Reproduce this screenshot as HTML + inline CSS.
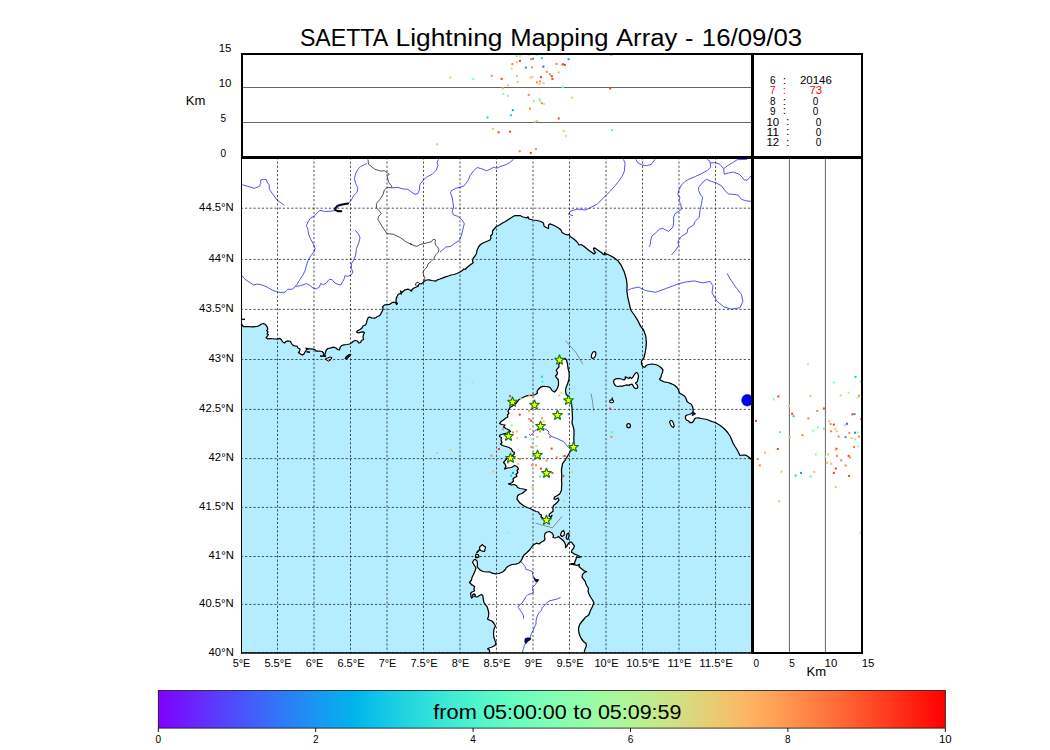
<!DOCTYPE html>
<html><head><meta charset="utf-8"><title>SAETTA Lightning Mapping Array</title>
<style>html,body{margin:0;padding:0;background:#fff}body{width:1050px;height:750px;overflow:hidden}</style></head>
<body>
<svg width="1050" height="750" viewBox="0 0 1050 750" style="display:block;font-family:'Liberation Sans',sans-serif">
<rect width="1050" height="750" fill="#fff"/>
<defs><clipPath id="mc"><rect x="241" y="157" width="512" height="496.5"/></clipPath><clipPath id="tc"><rect x="242" y="54" width="510" height="103"/></clipPath><clipPath id="rc"><rect x="753" y="157" width="109" height="496"/></clipPath></defs>
<g clip-path="url(#mc)">
<rect x="241" y="157" width="512" height="497" fill="#b4edff"/>
<path d="M241.0 157.0 L241.5 323.2 L242.2 325.2 L243.5 326.5 L247.0 326.5 L252.0 326.8 L257.0 326.5 L259.5 325.5 L261.5 324.0 L263.5 323.5 L265.5 324.5 L267.0 326.5 L267.8 329.0 L266.8 330.5 L268.0 332.0 L267.0 334.0 L268.5 334.5 L267.5 336.0 L266.0 337.8 L267.5 338.8 L271.0 338.5 L274.5 339.0 L277.5 339.2 L280.0 338.3 L281.5 340.0 L282.5 341.8 L284.5 343.0 L286.0 341.5 L288.0 340.8 L290.5 341.5 L291.5 343.5 L292.5 345.0 L294.5 345.8 L297.0 346.2 L298.0 348.0 L300.0 349.0 L299.5 351.5 L298.5 352.5 L300.5 354.0 L302.5 355.0 L304.0 354.0 L305.0 352.0 L306.0 350.5 L307.0 349.0 L310.0 348.8 L313.5 349.2 L315.5 350.0 L316.0 351.2 L319.0 351.0 L322.0 351.5 L323.5 353.0 L323.5 355.0 L324.5 356.0 L325.5 352.5 L326.2 350.0 L328.0 348.5 L331.0 347.8 L333.5 347.2 L336.0 348.0 L337.5 349.5 L339.5 350.0 L340.0 347.5 L341.5 345.5 L344.0 344.8 L347.0 344.5 L349.5 344.0 L351.5 343.0 L353.0 341.5 L355.0 340.5 L357.5 341.0 L359.0 343.0 L360.5 342.5 L361.5 340.5 L363.5 339.5 L363.0 337.0 L363.5 334.5 L364.5 333.0 L363.5 331.8 L361.0 332.2 L358.5 332.8 L356.5 332.2 L357.5 330.8 L360.0 329.5 L362.0 328.0 L363.0 326.0 L365.5 325.0 L366.5 323.0 L367.0 320.5 L368.0 318.0 L369.5 317.0 L371.5 318.0 L374.5 318.2 L376.5 317.5 L377.0 316.5 L379.0 316.0 L380.5 314.5 L381.5 312.5 L382.5 310.5 L383.0 308.5 L382.8 306.5 L384.5 305.0 L387.0 304.3 L389.5 304.5 L391.5 303.0 L393.5 302.2 L395.5 302.5 L396.5 304.5 L397.5 303.5 L396.0 301.5 L396.2 299.0 L397.0 296.5 L398.2 294.5 L400.0 293.5 L401.5 294.0 L400.5 291.0 L402.0 292.5 L403.5 291.0 L405.0 289.8 L408.0 289.2 L410.0 290.0 L411.5 291.2 L412.0 289.5 L414.0 288.0 L416.5 287.0 L418.5 286.0 L418.0 285.0 L419.5 283.5 L421.0 284.0 L422.5 283.0 L424.5 281.0 L426.5 280.0 L429.0 279.8 L432.0 280.5 L435.5 281.2 L437.5 279.8 L440.0 279.0 L443.0 277.8 L445.5 276.8 L448.5 276.0 L451.0 275.0 L454.0 274.5 L457.0 273.5 L460.0 272.0 L462.5 270.5 L463.5 269.0 L465.0 269.5 L467.0 267.5 L469.5 265.5 L471.5 264.0 L473.2 262.8 L472.5 261.0 L473.0 258.5 L475.0 256.0 L476.5 253.5 L477.0 250.5 L478.5 247.0 L480.5 244.5 L483.0 243.0 L486.5 241.5 L490.0 240.0 L491.0 238.0 L490.5 236.0 L492.5 234.0 L492.5 231.0 L494.5 228.5 L496.5 226.5 L499.5 225.0 L502.5 223.0 L505.5 221.5 L508.5 219.5 L511.5 217.5 L515.0 215.5 L520.0 215.5 L523.0 217.0 L527.0 217.8 L528.0 216.8 L529.0 219.0 L533.0 220.0 L537.0 220.5 L541.0 221.5 L543.5 223.0 L544.0 226.0 L546.0 227.5 L548.5 228.5 L548.5 225.0 L550.0 223.8 L553.0 225.0 L556.0 226.5 L559.0 228.2 L561.0 230.0 L562.0 232.5 L564.5 234.0 L567.0 234.8 L569.0 234.5 L570.0 236.5 L572.5 238.0 L575.0 240.0 L577.5 242.5 L579.0 245.0 L581.0 244.5 L583.5 246.0 L586.0 248.0 L589.0 250.5 L592.0 252.5 L594.0 254.0 L595.5 252.5 L594.0 250.5 L593.5 248.5 L594.5 247.8 L597.0 249.5 L599.5 251.2 L602.0 253.0 L603.5 254.5 L605.0 254.5 L604.5 252.5 L606.0 253.8 L608.0 254.5 L610.0 255.5 L614.3 257.9 L617.9 260.7 L621.4 265.7 L624.3 272.1 L626.4 279.3 L627.1 285.0 L626.9 291.4 L627.9 297.9 L629.3 303.6 L630.7 310.0 L634.3 315.0 L637.9 320.7 L640.7 326.4 L643.6 330.0 L645.7 335.7 L646.4 342.9 L645.8 349.0 L645.0 353.5 L644.0 357.5 L642.5 359.5 L641.5 361.0 L641.5 364.0 L642.5 366.0 L644.0 367.2 L645.5 366.8 L646.0 365.5 L648.5 364.5 L652.0 364.0 L655.5 364.5 L658.5 365.8 L661.0 367.5 L663.0 370.0 L662.5 372.5 L661.5 374.5 L661.0 377.0 L659.5 379.0 L661.0 380.5 L664.0 381.8 L668.0 382.5 L671.5 383.8 L674.5 385.2 L677.0 387.5 L678.5 390.0 L679.5 393.0 L682.0 394.5 L684.5 396.0 L686.0 398.5 L687.0 401.5 L689.0 403.0 L691.0 404.0 L692.5 406.5 L693.2 409.5 L693.0 412.0 L691.5 413.5 L689.5 414.5 L687.0 415.0 L685.5 416.0 L685.5 418.5 L686.5 420.0 L688.5 421.0 L690.0 422.5 L692.0 422.5 L693.5 421.2 L694.5 419.0 L696.0 418.0 L698.5 417.8 L701.0 418.5 L704.0 419.0 L707.0 419.5 L710.0 420.8 L713.5 422.0 L716.5 423.2 L719.5 425.0 L722.5 427.2 L725.5 430.0 L728.0 433.0 L730.0 436.0 L731.5 439.5 L733.0 443.0 L735.0 446.5 L737.0 449.5 L738.5 452.5 L740.0 455.5 L743.0 455.0 L745.5 455.0 L748.0 456.5 L750.5 458.5 L751.5 460.0 L756.0 464.0 L753.0 157.0 Z" fill="#fff" stroke="none"/>
<path d="M241.5 323.2 L242.2 325.2 L243.5 326.5 L247.0 326.5 L252.0 326.8 L257.0 326.5 L259.5 325.5 L261.5 324.0 L263.5 323.5 L265.5 324.5 L267.0 326.5 L267.8 329.0 L266.8 330.5 L268.0 332.0 L267.0 334.0 L268.5 334.5 L267.5 336.0 L266.0 337.8 L267.5 338.8 L271.0 338.5 L274.5 339.0 L277.5 339.2 L280.0 338.3 L281.5 340.0 L282.5 341.8 L284.5 343.0 L286.0 341.5 L288.0 340.8 L290.5 341.5 L291.5 343.5 L292.5 345.0 L294.5 345.8 L297.0 346.2 L298.0 348.0 L300.0 349.0 L299.5 351.5 L298.5 352.5 L300.5 354.0 L302.5 355.0 L304.0 354.0 L305.0 352.0 L306.0 350.5 L307.0 349.0 L310.0 348.8 L313.5 349.2 L315.5 350.0 L316.0 351.2 L319.0 351.0 L322.0 351.5 L323.5 353.0 L323.5 355.0 L324.5 356.0 L325.5 352.5 L326.2 350.0 L328.0 348.5 L331.0 347.8 L333.5 347.2 L336.0 348.0 L337.5 349.5 L339.5 350.0 L340.0 347.5 L341.5 345.5 L344.0 344.8 L347.0 344.5 L349.5 344.0 L351.5 343.0 L353.0 341.5 L355.0 340.5 L357.5 341.0 L359.0 343.0 L360.5 342.5 L361.5 340.5 L363.5 339.5 L363.0 337.0 L363.5 334.5 L364.5 333.0 L363.5 331.8 L361.0 332.2 L358.5 332.8 L356.5 332.2 L357.5 330.8 L360.0 329.5 L362.0 328.0 L363.0 326.0 L365.5 325.0 L366.5 323.0 L367.0 320.5 L368.0 318.0 L369.5 317.0 L371.5 318.0 L374.5 318.2 L376.5 317.5 L377.0 316.5 L379.0 316.0 L380.5 314.5 L381.5 312.5 L382.5 310.5 L383.0 308.5 L382.8 306.5 L384.5 305.0 L387.0 304.3 L389.5 304.5 L391.5 303.0 L393.5 302.2 L395.5 302.5 L396.5 304.5 L397.5 303.5 L396.0 301.5 L396.2 299.0 L397.0 296.5 L398.2 294.5 L400.0 293.5 L401.5 294.0 L400.5 291.0 L402.0 292.5 L403.5 291.0 L405.0 289.8 L408.0 289.2 L410.0 290.0 L411.5 291.2 L412.0 289.5 L414.0 288.0 L416.5 287.0 L418.5 286.0 L418.0 285.0 L419.5 283.5 L421.0 284.0 L422.5 283.0 L424.5 281.0 L426.5 280.0 L429.0 279.8 L432.0 280.5 L435.5 281.2 L437.5 279.8 L440.0 279.0 L443.0 277.8 L445.5 276.8 L448.5 276.0 L451.0 275.0 L454.0 274.5 L457.0 273.5 L460.0 272.0 L462.5 270.5 L463.5 269.0 L465.0 269.5 L467.0 267.5 L469.5 265.5 L471.5 264.0 L473.2 262.8 L472.5 261.0 L473.0 258.5 L475.0 256.0 L476.5 253.5 L477.0 250.5 L478.5 247.0 L480.5 244.5 L483.0 243.0 L486.5 241.5 L490.0 240.0 L491.0 238.0 L490.5 236.0 L492.5 234.0 L492.5 231.0 L494.5 228.5 L496.5 226.5 L499.5 225.0 L502.5 223.0 L505.5 221.5 L508.5 219.5 L511.5 217.5 L515.0 215.5 L520.0 215.5 L523.0 217.0 L527.0 217.8 L528.0 216.8 L529.0 219.0 L533.0 220.0 L537.0 220.5 L541.0 221.5 L543.5 223.0 L544.0 226.0 L546.0 227.5 L548.5 228.5 L548.5 225.0 L550.0 223.8 L553.0 225.0 L556.0 226.5 L559.0 228.2 L561.0 230.0 L562.0 232.5 L564.5 234.0 L567.0 234.8 L569.0 234.5 L570.0 236.5 L572.5 238.0 L575.0 240.0 L577.5 242.5 L579.0 245.0 L581.0 244.5 L583.5 246.0 L586.0 248.0 L589.0 250.5 L592.0 252.5 L594.0 254.0 L595.5 252.5 L594.0 250.5 L593.5 248.5 L594.5 247.8 L597.0 249.5 L599.5 251.2 L602.0 253.0 L603.5 254.5 L605.0 254.5 L604.5 252.5 L606.0 253.8 L608.0 254.5 L610.0 255.5 L614.3 257.9 L617.9 260.7 L621.4 265.7 L624.3 272.1 L626.4 279.3 L627.1 285.0 L626.9 291.4 L627.9 297.9 L629.3 303.6 L630.7 310.0 L634.3 315.0 L637.9 320.7 L640.7 326.4 L643.6 330.0 L645.7 335.7 L646.4 342.9 L645.8 349.0 L645.0 353.5 L644.0 357.5 L642.5 359.5 L641.5 361.0 L641.5 364.0 L642.5 366.0 L644.0 367.2 L645.5 366.8 L646.0 365.5 L648.5 364.5 L652.0 364.0 L655.5 364.5 L658.5 365.8 L661.0 367.5 L663.0 370.0 L662.5 372.5 L661.5 374.5 L661.0 377.0 L659.5 379.0 L661.0 380.5 L664.0 381.8 L668.0 382.5 L671.5 383.8 L674.5 385.2 L677.0 387.5 L678.5 390.0 L679.5 393.0 L682.0 394.5 L684.5 396.0 L686.0 398.5 L687.0 401.5 L689.0 403.0 L691.0 404.0 L692.5 406.5 L693.2 409.5 L693.0 412.0 L691.5 413.5 L689.5 414.5 L687.0 415.0 L685.5 416.0 L685.5 418.5 L686.5 420.0 L688.5 421.0 L690.0 422.5 L692.0 422.5 L693.5 421.2 L694.5 419.0 L696.0 418.0 L698.5 417.8 L701.0 418.5 L704.0 419.0 L707.0 419.5 L710.0 420.8 L713.5 422.0 L716.5 423.2 L719.5 425.0 L722.5 427.2 L725.5 430.0 L728.0 433.0 L730.0 436.0 L731.5 439.5 L733.0 443.0 L735.0 446.5 L737.0 449.5 L738.5 452.5 L740.0 455.5 L743.0 455.0 L745.5 455.0 L748.0 456.5 L750.5 458.5 L751.5 460.0 L756.0 464.0" fill="none" stroke="#000" stroke-width="1.25" stroke-linejoin="round"/>
<path d="M565.0 358.5 L566.5 360.0 L567.5 364.0 L568.0 368.0 L569.0 372.0 L569.2 376.0 L568.8 380.0 L567.5 384.0 L566.2 387.0 L565.5 390.5 L566.0 394.0 L568.0 396.5 L570.0 399.0 L571.5 403.0 L572.0 408.0 L572.2 413.0 L572.5 418.0 L572.0 423.0 L573.0 426.0 L574.0 430.0 L574.0 434.0 L573.8 438.0 L574.0 443.0 L573.0 446.5 L571.0 450.0 L570.0 452.0 L568.5 454.5 L567.0 457.0 L565.5 459.5 L564.0 461.5 L562.5 463.5 L562.2 466.0 L561.5 469.0 L561.5 472.0 L561.8 476.0 L561.5 480.0 L561.8 484.0 L561.5 488.0 L561.5 490.0 L560.5 492.5 L559.0 494.5 L556.5 496.0 L554.5 497.0 L554.0 499.0 L555.5 499.5 L558.0 498.0 L559.0 500.0 L557.5 502.0 L555.5 504.0 L553.5 505.5 L552.8 508.0 L553.2 511.0 L551.5 512.5 L549.5 514.0 L549.0 516.0 L550.5 517.0 L552.0 515.5 L551.0 517.5 L550.0 519.0 L548.5 521.0 L546.5 522.0 L544.5 520.5 L543.0 518.0 L541.0 517.0 L541.5 515.0 L539.5 514.0 L538.5 512.0 L536.0 511.5 L533.0 510.0 L530.0 508.5 L527.0 507.5 L524.0 506.0 L522.0 504.5 L520.0 503.0 L518.5 501.0 L517.0 499.0 L517.5 496.0 L519.0 494.5 L522.0 493.5 L524.5 491.5 L526.5 489.8 L523.5 489.0 L520.0 488.5 L517.5 487.5 L516.5 485.5 L514.0 484.5 L511.5 485.0 L508.5 483.8 L511.5 483.0 L513.5 481.0 L513.0 479.0 L514.5 477.5 L517.0 476.5 L516.0 474.5 L518.0 472.5 L517.0 470.5 L518.5 469.0 L517.0 466.5 L514.5 465.5 L511.5 467.5 L507.5 468.0 L504.5 469.0 L506.0 466.5 L505.0 464.0 L503.5 462.5 L506.0 459.5 L508.5 457.5 L511.5 456.0 L514.0 454.5 L514.5 452.5 L512.5 451.5 L511.5 449.0 L509.0 447.5 L506.0 446.5 L502.5 445.5 L500.5 444.0 L502.0 442.5 L501.0 440.0 L501.5 437.5 L499.5 436.5 L500.0 435.0 L504.5 433.5 L507.5 433.0 L510.5 431.5 L509.0 430.0 L506.0 428.5 L503.5 427.0 L505.0 425.0 L501.5 424.5 L499.5 423.5 L501.0 421.5 L503.5 420.0 L505.5 418.2 L507.8 417.0 L507.5 415.0 L509.0 413.2 L508.0 411.5 L508.8 409.5 L510.0 407.5 L512.5 406.0 L514.5 404.5 L516.5 403.0 L517.8 401.2 L519.0 399.5 L521.0 398.2 L523.0 397.5 L525.0 396.5 L527.5 395.7 L530.0 395.5 L533.0 395.2 L535.5 394.5 L537.5 393.0 L537.0 391.5 L538.5 389.2 L540.5 387.2 L543.0 386.3 L546.0 386.5 L548.5 386.8 L550.5 388.0 L552.0 390.5 L554.5 392.0 L556.0 390.5 L557.5 388.0 L558.5 385.0 L558.5 382.0 L558.2 379.5 L556.5 377.8 L555.5 376.0 L557.0 374.5 L557.5 372.5 L556.2 370.5 L557.5 368.5 L559.0 367.0 L558.8 364.5 L560.0 362.5 L559.0 360.5 L561.0 358.8 Z" fill="#fff" stroke="#000" stroke-width="1.25" stroke-linejoin="round"/>
<path d="M489.5 655.0 L489.5 650.0 L487.5 649.0 L489.0 648.0 L492.0 647.0 L495.0 645.5 L496.0 643.0 L495.0 640.5 L493.8 637.0 L493.5 633.0 L494.0 629.0 L495.5 626.0 L494.0 623.5 L492.0 621.0 L489.5 620.2 L487.5 619.0 L488.5 616.5 L488.8 613.0 L488.0 609.5 L487.0 606.5 L485.5 604.5 L484.0 602.5 L483.2 599.0 L482.8 595.5 L481.5 594.5 L479.5 595.5 L477.0 597.0 L474.5 596.5 L475.5 595.0 L474.0 593.8 L472.5 595.0 L473.0 597.0 L471.5 598.0 L471.0 596.0 L470.5 593.5 L472.0 592.0 L474.5 591.0 L474.0 589.0 L474.5 586.5 L472.5 585.0 L472.0 585.0 L469.5 582.5 L471.5 580.0 L472.0 577.5 L473.5 574.5 L475.0 571.0 L476.0 568.0 L474.5 565.5 L472.5 562.5 L473.8 560.0 L475.2 559.2 L477.0 561.0 L477.5 564.0 L477.2 566.5 L478.5 568.5 L480.5 570.2 L483.0 571.5 L486.5 572.0 L489.5 571.8 L492.0 573.2 L495.5 573.8 L499.0 573.5 L502.5 572.0 L505.0 570.0 L506.5 567.5 L509.0 565.8 L512.0 564.5 L516.0 564.2 L519.0 563.0 L521.0 561.0 L522.5 558.0 L524.0 555.0 L527.0 552.5 L530.0 549.5 L532.0 546.5 L534.0 544.5 L536.5 543.2 L539.0 544.0 L541.5 542.0 L543.5 541.0 L545.0 539.5 L544.5 536.5 L545.0 533.5 L547.0 532.0 L549.5 531.5 L552.0 533.0 L553.5 535.5 L553.0 537.5 L555.0 538.0 L557.0 537.5 L558.5 536.5 L560.0 538.0 L562.0 539.5 L564.0 541.5 L565.5 544.5 L565.5 547.5 L567.0 546.0 L568.0 544.0 L569.5 542.0 L571.5 542.0 L573.0 544.0 L574.5 546.0 L573.5 548.5 L572.0 550.0 L571.5 552.5 L573.0 553.0 L574.5 554.2 L576.5 554.8 L579.0 556.0 L581.0 557.0 L578.5 557.5 L576.5 557.0 L576.0 559.0 L575.0 561.5 L574.5 563.5 L572.0 563.5 L569.5 564.0 L572.0 564.5 L575.0 564.8 L577.0 565.5 L579.5 564.2 L579.0 566.5 L580.5 568.0 L582.5 569.5 L584.5 571.2 L586.5 571.7 L584.0 572.8 L582.5 574.5 L582.0 577.0 L583.5 579.0 L585.0 581.0 L586.0 584.0 L587.0 586.0 L588.5 588.5 L588.0 591.0 L589.0 594.0 L590.5 597.0 L592.5 600.0 L594.0 603.0 L593.5 603.5 L592.5 606.5 L591.2 609.0 L590.0 611.5 L589.0 614.5 L587.5 616.0 L585.5 617.0 L584.0 619.0 L582.0 621.5 L580.0 624.0 L578.8 627.0 L578.5 630.0 L579.0 633.0 L580.0 636.0 L581.5 639.0 L583.5 641.5 L586.0 643.5 L586.5 645.5 L585.5 648.0 L584.5 650.5 L584.2 655.0 Z" fill="#fff" stroke="#000" stroke-width="1.25" stroke-linejoin="round"/>
<path d="M613.5 382.0 L614.0 380.0 L616.0 378.8 L619.0 378.5 L621.5 379.0 L624.0 380.0 L625.5 378.5 L625.2 376.8 L627.0 377.5 L629.0 378.5 L630.0 377.2 L631.5 378.5 L633.0 377.0 L634.0 375.0 L635.5 373.0 L637.0 372.5 L638.0 374.0 L638.5 376.5 L637.8 379.5 L637.5 381.5 L635.5 383.0 L637.0 384.5 L637.8 386.5 L637.5 388.2 L635.5 388.5 L634.0 387.5 L633.0 385.5 L632.0 384.2 L630.0 384.5 L629.0 385.5 L627.0 384.8 L624.5 385.5 L622.5 386.2 L620.0 386.0 L618.0 386.5 L616.0 386.0 L614.5 384.5 Z" fill="#fff" stroke="#000" stroke-width="1.25" stroke-linejoin="round"/>
<ellipse cx="593.6" cy="355" rx="2.0" ry="3.5" transform="rotate(18 593.6 355)" fill="#fff" stroke="#000" stroke-width="1.2"/>
<ellipse cx="611.6" cy="401.3" rx="2.0" ry="1.4" fill="#fff" stroke="#000" stroke-width="1.1"/><path d="M612.3 400 L612.3 397.6" stroke="#000" stroke-width="1.3"/>
<ellipse cx="628.6" cy="425.7" rx="1.8" ry="2" fill="#fff" stroke="#000" stroke-width="1.2"/>
<path d="M669.5 421.8 L671.0 420.2 L672.5 421.2 L673.5 423.5 L674.2 426.0 L673.5 427.5 L671.8 426.5 L670.5 424.5 Z" fill="#fff" stroke="#000" stroke-width="1.1" stroke-linejoin="round"/>
<path d="M305.5 348.3 L308.5 349 M306.5 351.7 L310 352.3" stroke="#000" stroke-width="1.6" fill="none"/>
<path d="M320 356 L326 356.3" stroke="#000" stroke-width="1.5" fill="none"/>
<path d="M325.0 359.0 L327.5 358.0 L330.0 357.0 L332.0 357.5 L331.0 359.5 L328.5 361.2 L326.5 360.0 Z" fill="#ccc" stroke="#000" stroke-width="1.0"/>
<path d="M345.0 358.5 L346.5 356.0 L349.0 354.5 L351.0 354.2 L350.0 356.0 L347.5 358.5 L346.0 359.5 Z" fill="#222" stroke="#000" stroke-width="0.9"/>
<path d="M415.5 285.0 L416.0 283.0 L418.0 282.2 L419.2 283.5 L417.8 285.5 L416.5 286.2 Z" fill="#fff" stroke="#000" stroke-width="0.8"/>
<path d="M480.0 546.5 L482.5 544.5 L483.5 545.8 L485.5 547.0 L485.0 549.5 L484.5 551.5 L482.5 551.2 L480.5 550.5 L479.5 548.5 Z" fill="#fff" stroke="#000" stroke-width="1.2" stroke-linejoin="round"/>
<path d="M479.8 549.5 L478.0 551.2 L476.5 553.0" fill="none" stroke="#000" stroke-width="1.6"/>
<path d="M475.5 556.0 L476.0 554.2 L478.5 554.8 L479.0 557.0 L477.0 557.8 L475.5 557.2 Z" fill="#fff" stroke="#000" stroke-width="1.2" stroke-linejoin="round"/>
<path d="M560.5 535.0 L561.5 532.0 L563.5 530.5 L564.5 532.5 L564.0 535.5 L562.0 536.5 Z" fill="#fff" stroke="#000" stroke-width="1.2" stroke-linejoin="round"/>
<path d="M566.2 537.5 L567.0 534.0 L568.8 533.0 L569.0 536.0 L568.0 539.5 L566.8 539.0 Z" fill="#ddd" stroke="#000" stroke-width="1.2" stroke-linejoin="round"/>
<path d="M241.5 319.3 L245 319.3" stroke="#000" stroke-width="1.3"/>
<path d="M424.5 280.0 L425.0 278.0 L423.5 275.0 L423.0 272.0 L424.5 269.5 L427.0 267.0 L428.0 264.0 L431.0 261.5 L434.0 258.5 L435.5 255.0 L438.0 252.5 L439.0 249.5 L437.5 247.0 L435.5 245.0 L435.0 242.5 L435.5 240.0 L434.0 239.2 L432.0 240.5 L431.5 241.8 L428.0 242.5 L424.0 243.5 L420.0 244.5 L417.0 246.5 L414.0 245.5 L411.5 244.5 L410.0 243.5 L412.1 244.7 L406.4 242.1 L400.7 237.9 L393.6 234.3 L387.1 233.6 L382.1 226.4 L377.9 219.3 L378.6 216.4 L381.4 213.6 L379.3 210.7 L376.4 207.9 L376.4 203.6 L380.0 199.3 L382.9 195.0 L384.3 190.0 L387.1 187.4 L392.1 187.9" fill="none" stroke="#1a1a1a" stroke-width="0.75" stroke-linejoin="round"/>
<path d="M392.1 187.9 L391.4 185.7 L388.6 182.1 L387.1 176.4 L389.3 174.3 L384.3 170.7 L380.7 171.1 L375.0 169.3 L372.1 167.1 L368.6 164.3 L367.9 159.3" fill="none" stroke="#1a1a1a" stroke-width="0.75" stroke-linejoin="round"/>
<path d="M565.7 340.7 L569.3 345.0 L575.7 352.1 L580.0 359.3 L582.9 364.3" fill="none" stroke="#555" stroke-width="0.6"/>
<path d="M591.1 393.6 L592.6 402.1 L593.6 410.7" fill="none" stroke="#555" stroke-width="0.6"/>
<path d="M535.5 523.2 L552.5 527.8 L562.0 516.5" fill="none" stroke="#555" stroke-width="0.6"/>
<path d="M242.1 184.7 L247.9 186.4 L254.3 188.3 L259.3 186.4 L260.7 183.6 L260.7 180.0 L263.6 179.3 L266.4 179.7 L267.1 182.1 L269.3 185.0 L269.3 189.3 L272.9 194.3 L277.1 200.0 L282.1 203.6 L284.3 205.4" fill="none" stroke="#4848ff" stroke-width="0.95" stroke-linejoin="round"/>
<path d="M367.1 163.6 L365.0 164.3 L360.7 166.4 L357.9 169.3 L355.7 173.6 L354.3 178.6 L355.7 183.6 L357.9 187.9 L357.1 192.1 L353.6 195.7 L351.4 200.0 L348.6 203.1" fill="none" stroke="#4848ff" stroke-width="0.95" stroke-linejoin="round"/>
<path d="M334.3 210.7 L329.3 211.4 L324.3 211.4 L320.0 210.3 L317.1 212.9 L314.3 216.0 L310.0 218.6 L307.9 222.1 L306.4 225.7 L307.9 229.3 L308.6 234.3 L310.7 239.3 L313.6 244.3 L315.0 248.6 L314.3 251.4 L310.7 255.7 L307.9 260.7 L306.4 265.7 L305.0 270.7 L302.9 275.0 L300.0 279.3 L297.1 284.3 L295.0 286.4" fill="none" stroke="#4848ff" stroke-width="0.95" stroke-linejoin="round"/>
<path d="M355.0 230.0 L355.7 230.7 L358.6 234.3 L360.0 237.9 L358.6 243.6 L356.4 248.6 L355.7 255.0 L353.6 260.0 L351.4 263.6 L351.4 268.6 L352.9 272.1 L351.4 274.6 L347.9 276.4 L345.0 275.7 L344.3 278.6 L342.9 281.4 L340.7 285.0 L337.9 284.3 L335.0 283.1 L332.1 279.7 L329.3 279.3 L326.4 282.9 L323.6 284.6 L320.7 283.6 L319.3 287.1 L316.4 288.9 L312.9 287.9 L309.3 285.0 L306.4 283.6 L300.7 285.7 L295.7 286.4 L292.1 289.3 L287.9 289.3 L285.0 292.1 L280.7 292.6 L276.4 291.7 L272.1 290.0 L267.1 287.1 L262.1 285.0 L257.1 284.0 L253.6 285.0 L249.3 282.1 L245.0 279.3 L242.1 275.7" fill="none" stroke="#4848ff" stroke-width="0.95" stroke-linejoin="round"/>
<path d="M392.1 187.9 L397.9 187.4 L402.9 188.9 L407.9 189.3 L411.4 192.1 L415.0 194.3 L417.9 193.6 L419.3 190.0 L420.0 184.3 L422.9 180.7 L426.4 177.1 L432.1 174.3 L436.4 170.0 L437.9 165.7 L437.1 162.1 L438.6 159.3" fill="none" stroke="#4848ff" stroke-width="0.95" stroke-linejoin="round"/>
<path d="M513.6 159.3 L509.3 162.9 L505.0 165.0 L500.7 166.4 L496.4 168.3 L493.6 167.1 L490.0 169.3 L486.4 170.7 L481.4 168.6 L477.1 167.6 L473.6 170.7 L470.0 175.7 L467.9 180.7 L464.3 185.7 L460.0 187.4 L455.7 188.3 L451.4 190.7 L450.4 192.9 L452.1 197.1 L452.9 202.1 L453.6 207.1 L452.1 212.1 L453.6 215.0 L457.9 216.4 L462.1 220.0 L464.3 223.6 L462.9 229.3 L461.4 235.7 L459.3 240.7 L454.3 243.6 L450.7 246.4 L445.7 247.1 L440.0 252.1" fill="none" stroke="#4848ff" stroke-width="0.95" stroke-linejoin="round"/>
<path d="M623.6 159.3 L625.0 163.6 L624.3 171.4 L622.1 176.4 L618.6 181.4 L615.7 185.0 L610.0 191.4 L607.1 194.3 L597.1 204.3 L585.7 210.0 L577.1 209.1 L570.0 211.4 L568.6 214.3 L572.9 215.7" fill="none" stroke="#4848ff" stroke-width="0.95" stroke-linejoin="round"/>
<path d="M635.7 159.3 L637.9 162.9 L642.1 165.0 L646.4 165.7 L651.4 164.3 L655.0 159.3" fill="none" stroke="#4848ff" stroke-width="0.95" stroke-linejoin="round"/>
<path d="M707.1 159.3 L710.0 161.4 L710.7 167.1 L707.1 170.7 L701.4 173.6 L695.7 176.4 L690.0 178.6 L685.0 181.4 L681.4 185.0 L678.6 190.7 L677.9 194.3 L680.0 197.9 L678.6 200.7 L680.7 203.6 L681.4 209.3 L678.6 211.4 L675.0 213.6 L673.6 217.1 L673.6 222.9 L672.9 227.1 L668.6 231.4 L665.7 230.0 L662.9 228.3 L659.3 229.3 L655.7 232.9 L652.1 235.7 L650.7 240.0 L650.3 244.3 L649.3 246.9" fill="none" stroke="#4848ff" stroke-width="0.95" stroke-linejoin="round"/>
<path d="M710.0 162.9 L715.7 162.6 L720.0 164.3 L723.6 168.6 L724.3 174.3 L728.6 172.9 L733.6 172.1 L739.3 174.3 L742.1 177.1 L744.3 180.0 L747.1 180.3 L751.1 176.0" fill="none" stroke="#4848ff" stroke-width="0.95" stroke-linejoin="round"/>
<path d="M723.6 168.6 L728.6 165.0 L733.6 162.1 L737.1 159.7 L747.1 159.3" fill="none" stroke="#4848ff" stroke-width="0.95" stroke-linejoin="round"/>
<path d="M751.1 201.4 L745.7 200.7 L741.4 199.3 L737.9 195.0 L732.9 194.3 L728.6 194.0 L725.0 190.7 L721.4 185.7 L716.4 183.1 L711.4 181.4 L706.4 179.3 L702.9 182.1 L698.6 187.4 L698.6 190.7 L700.7 195.0 L702.6 197.1 L701.4 204.3 L700.0 210.0 L699.3 217.1 L695.0 221.4 L693.6 225.0 L687.9 228.6 L687.1 232.9 L681.4 236.4 L677.9 241.4 L678.6 245.7 L675.7 250.0 L671.4 255.0" fill="none" stroke="#4848ff" stroke-width="0.95" stroke-linejoin="round"/>
<path d="M627.1 290.6 L631.4 288.6 L638.6 287.1 L645.7 290.6 L655.7 292.3 L665.7 288.6 L677.1 284.3 L685.7 282.0 L694.3 280.9 L702.9 282.9 L710.0 281.4 L712.9 285.7 L712.0 292.9 L717.1 301.4 L724.3 307.1 L731.4 309.1 L740.0 307.7 L742.9 301.4 L741.4 294.3 L735.7 287.1 L730.0 278.6 L727.1 273.4" fill="none" stroke="#4848ff" stroke-width="0.95" stroke-linejoin="round"/>
<path d="M529.0 434.0 L530.5 435.5 L532.5 433.5 L534.5 431.0 L537.0 429.5 L540.5 428.5 L544.0 428.8 L547.0 430.0 L549.0 432.0 L548.5 434.0 L551.0 436.0 L554.0 437.5 L557.0 438.5 L560.0 440.0 L563.5 441.5 L566.0 444.5 L568.5 447.5 L570.5 448.5" fill="none" stroke="#4848ff" stroke-width="0.95" stroke-linejoin="round"/>
<path d="M521.0 562.0 L523.0 563.5 L525.0 566.5 L526.0 569.5 L528.5 570.0 L531.0 571.0 L533.0 572.0 L532.5 574.5 L534.0 577.0 L535.0 579.0 L536.5 582.5 L535.5 584.5 L532.5 587.5 L533.0 590.5 L533.5 593.0 L533.2 592.5 L531.0 593.8 L528.0 594.5 L526.0 596.5 L524.0 600.0 L522.0 603.0 L519.0 605.5 L518.2 607.5 L520.0 610.0 L522.5 613.5 L523.5 616.0 L523.5 618.5" fill="none" stroke="#4848ff" stroke-width="0.95" stroke-linejoin="round"/>
<path d="M560.5 597.5 L557.0 599.0 L553.0 600.0 L549.0 601.0 L546.0 603.5 L543.5 606.5 L542.0 608.5 L541.5 610.5 L539.5 612.0 L538.0 614.5 L536.5 618.0 L536.0 621.5 L536.0 624.0 L534.5 627.0 L533.0 630.5 L531.5 633.5 L530.5 636.0 L530.0 638.5 L526.0 642.5 L524.5 645.0 L523.5 648.5 L522.5 652.2" fill="none" stroke="#4848ff" stroke-width="0.95" stroke-linejoin="round"/>
<path d="M348 203.5 L342.3 204.5 L337.7 205.8 L335.4 208.3 L334.8 209.8 L337.7 211.1 L341.3 211.3" fill="none" stroke="#000" stroke-width="2.1" stroke-linecap="round" stroke-linejoin="round"/>
<path d="M338.5 205.6 L336.2 207.8 L335.2 209.6" fill="none" stroke="#0000e0" stroke-width="0.9" stroke-linecap="round"/>
<ellipse cx="747.3" cy="400.2" rx="5.6" ry="5.8" fill="#00f" stroke="#000090" stroke-width="0.6"/>
<path d="M693.5 411.8 L695.7 414.0 L692.0 415.8 Z" fill="#0000c8" stroke="#000" stroke-width="0.7" stroke-linejoin="round"/>
<path d="M533.8 577.8 L536.0 579.5 L538.8 579.8 L537.2 582.0 L535.0 580.8 Z" fill="#0000a0" stroke="#000" stroke-width="0.8"/>
<path d="M525.2 638.5 L528.0 637.8 L530.8 638.5 L530.0 640.0 L528.0 641.0 L526.0 643.5 L524.8 642.0 Z" fill="#0000a0" stroke="#000" stroke-width="0.8"/>
<line x1="277.5" y1="157.3" x2="277.5" y2="654" stroke="#101518" stroke-width="1" stroke-dasharray="2.2 1.99" opacity="0.72"/>
<line x1="314.0" y1="157.3" x2="314.0" y2="654" stroke="#101518" stroke-width="1" stroke-dasharray="2.2 1.99" opacity="0.72"/>
<line x1="350.5" y1="157.3" x2="350.5" y2="654" stroke="#101518" stroke-width="1" stroke-dasharray="2.2 1.99" opacity="0.72"/>
<line x1="387.0" y1="157.3" x2="387.0" y2="654" stroke="#101518" stroke-width="1" stroke-dasharray="2.2 1.99" opacity="0.72"/>
<line x1="423.5" y1="157.3" x2="423.5" y2="654" stroke="#101518" stroke-width="1" stroke-dasharray="2.2 1.99" opacity="0.72"/>
<line x1="460.0" y1="157.3" x2="460.0" y2="654" stroke="#101518" stroke-width="1" stroke-dasharray="2.2 1.99" opacity="0.72"/>
<line x1="496.5" y1="157.3" x2="496.5" y2="654" stroke="#101518" stroke-width="1" stroke-dasharray="2.2 1.99" opacity="0.72"/>
<line x1="533.0" y1="157.3" x2="533.0" y2="654" stroke="#101518" stroke-width="1" stroke-dasharray="2.2 1.99" opacity="0.72"/>
<line x1="569.5" y1="157.3" x2="569.5" y2="654" stroke="#101518" stroke-width="1" stroke-dasharray="2.2 1.99" opacity="0.72"/>
<line x1="606.0" y1="157.3" x2="606.0" y2="654" stroke="#101518" stroke-width="1" stroke-dasharray="2.2 1.99" opacity="0.72"/>
<line x1="642.5" y1="157.3" x2="642.5" y2="654" stroke="#101518" stroke-width="1" stroke-dasharray="2.2 1.99" opacity="0.72"/>
<line x1="679.0" y1="157.3" x2="679.0" y2="654" stroke="#101518" stroke-width="1" stroke-dasharray="2.2 1.99" opacity="0.72"/>
<line x1="715.5" y1="157.3" x2="715.5" y2="654" stroke="#101518" stroke-width="1" stroke-dasharray="2.2 1.99" opacity="0.72"/>
<line x1="240.9" y1="208.2" x2="753" y2="208.2" stroke="#101518" stroke-width="1" stroke-dasharray="2.2 1.99" opacity="0.72"/>
<line x1="240.9" y1="259.4" x2="753" y2="259.4" stroke="#101518" stroke-width="1" stroke-dasharray="2.2 1.99" opacity="0.72"/>
<line x1="240.9" y1="309.4" x2="753" y2="309.4" stroke="#101518" stroke-width="1" stroke-dasharray="2.2 1.99" opacity="0.72"/>
<line x1="240.9" y1="359.5" x2="753" y2="359.5" stroke="#101518" stroke-width="1" stroke-dasharray="2.2 1.99" opacity="0.72"/>
<line x1="240.9" y1="409.4" x2="753" y2="409.4" stroke="#101518" stroke-width="1" stroke-dasharray="2.2 1.99" opacity="0.72"/>
<line x1="240.9" y1="458.6" x2="753" y2="458.6" stroke="#101518" stroke-width="1" stroke-dasharray="2.2 1.99" opacity="0.72"/>
<line x1="240.9" y1="507.4" x2="753" y2="507.4" stroke="#101518" stroke-width="1" stroke-dasharray="2.2 1.99" opacity="0.72"/>
<line x1="240.9" y1="556.5" x2="753" y2="556.5" stroke="#101518" stroke-width="1" stroke-dasharray="2.2 1.99" opacity="0.72"/>
<line x1="240.9" y1="604.4" x2="753" y2="604.4" stroke="#101518" stroke-width="1" stroke-dasharray="2.2 1.99" opacity="0.72"/>
<line x1="240.9" y1="652.9" x2="753" y2="652.9" stroke="#101518" stroke-width="1" stroke-dasharray="2.2 1.99" opacity="0.72"/>
<rect x="509.0" y="395.1" width="2.0" height="2.0" fill="#ff381c"/><rect x="543.3" y="363.3" width="2.0" height="2.0" fill="#a8f79c"/><rect x="540.9" y="375.7" width="2.0" height="2.0" fill="#19cee3"/><rect x="541.6" y="380.7" width="2.0" height="2.0" fill="#4df3ce"/><rect x="560.4" y="391.9" width="2.0" height="2.0" fill="#a8f79c"/><rect x="558.3" y="394.3" width="2.0" height="2.0" fill="#f0c46d"/><rect x="519.4" y="396.9" width="2.0" height="2.0" fill="#b2f396"/><rect x="528.3" y="394.3" width="2.0" height="2.0" fill="#ff8243"/><rect x="532.6" y="395.1" width="2.0" height="2.0" fill="#ff8243"/><rect x="527.9" y="409.7" width="2.0" height="2.0" fill="#ff8243"/><rect x="518.7" y="413.7" width="2.0" height="2.0" fill="#ff381c"/><rect x="567.9" y="413.1" width="2.0" height="2.0" fill="#1996f3"/><rect x="528.3" y="418.0" width="2.0" height="2.0" fill="#ff8243"/><rect x="530.1" y="419.7" width="2.0" height="2.0" fill="#ff381c"/><rect x="540.9" y="417.3" width="2.0" height="2.0" fill="#ff8243"/><rect x="542.6" y="420.4" width="2.0" height="2.0" fill="#f0c46d"/><rect x="510.7" y="424.3" width="2.0" height="2.0" fill="#80ffb4"/><rect x="501.9" y="428.3" width="2.0" height="2.0" fill="#ff8243"/><rect x="511.9" y="431.4" width="2.0" height="2.0" fill="#ff8243"/><rect x="515.9" y="430.4" width="2.0" height="2.0" fill="#f0c46d"/><rect x="529.3" y="428.0" width="2.0" height="2.0" fill="#f0c46d"/><rect x="539.0" y="430.4" width="2.0" height="2.0" fill="#ff8243"/><rect x="524.7" y="436.1" width="2.0" height="2.0" fill="#1996f3"/><rect x="516.1" y="436.9" width="2.0" height="2.0" fill="#f0c46d"/><rect x="536.1" y="436.1" width="2.0" height="2.0" fill="#f0c46d"/><rect x="531.1" y="438.3" width="2.0" height="2.0" fill="#80ffb4"/><rect x="549.0" y="436.1" width="2.0" height="2.0" fill="#ff8243"/><rect x="530.4" y="445.9" width="2.0" height="2.0" fill="#ff8243"/><rect x="535.4" y="445.1" width="2.0" height="2.0" fill="#80ffb4"/><rect x="550.7" y="447.6" width="2.0" height="2.0" fill="#ff381c"/><rect x="497.9" y="448.0" width="2.0" height="2.0" fill="#ff381c"/><rect x="609.0" y="407.6" width="2.0" height="2.0" fill="#ff381c"/><rect x="610.9" y="431.1" width="2.0" height="2.0" fill="#4df3ce"/><rect x="610.4" y="435.9" width="2.0" height="2.0" fill="#ff8243"/><rect x="490.4" y="454.7" width="2.0" height="2.0" fill="#ff8243"/><rect x="492.1" y="470.7" width="2.0" height="2.0" fill="#f0c46d"/><rect x="511.9" y="471.9" width="2.0" height="2.0" fill="#1996f3"/><rect x="510.0" y="474.7" width="2.0" height="2.0" fill="#19cee3"/><rect x="519.0" y="458.0" width="2.0" height="2.0" fill="#ff8243"/><rect x="517.3" y="463.0" width="2.0" height="2.0" fill="#f0c46d"/><rect x="507.3" y="462.1" width="2.0" height="2.0" fill="#f0c46d"/><rect x="555.7" y="456.4" width="2.0" height="2.0" fill="#ff8243"/><rect x="561.9" y="455.4" width="2.0" height="2.0" fill="#80ffb4"/><rect x="563.7" y="455.0" width="2.0" height="2.0" fill="#ff381c"/><rect x="545.7" y="459.4" width="2.0" height="2.0" fill="#ff8243"/><rect x="531.1" y="464.3" width="2.0" height="2.0" fill="#ff8243"/><rect x="535.0" y="464.3" width="2.0" height="2.0" fill="#ff8243"/><rect x="540.0" y="467.6" width="2.0" height="2.0" fill="#ff381c"/><rect x="551.4" y="471.9" width="2.0" height="2.0" fill="#ff381c"/><rect x="539.0" y="475.4" width="2.0" height="2.0" fill="#4df3ce"/><rect x="562.3" y="475.1" width="2.0" height="2.0" fill="#ff381c"/><rect x="571.1" y="471.1" width="2.0" height="2.0" fill="#f0c46d"/><rect x="531.4" y="486.1" width="2.0" height="2.0" fill="#f0c46d"/><rect x="562.9" y="500.4" width="2.0" height="2.0" fill="#f0c46d"/><rect x="506.6" y="531.9" width="2.0" height="2.0" fill="#80ffb4"/><rect x="471.6" y="381.6" width="2.0" height="2.0" fill="#80ffb4"/><rect x="436.1" y="452.0" width="2.0" height="2.0" fill="#f0c46d"/><rect x="449.3" y="449.0" width="2.0" height="2.0" fill="#f0c46d"/>
<path d="M559.5 354.7 L560.8 358.3 L564.5 358.4 L561.5 360.7 L562.6 364.3 L559.5 362.1 L556.4 364.3 L557.5 360.7 L554.5 358.4 L558.2 358.3 Z" fill="#ffff00" stroke="#0b7d0b" stroke-width="1.1" stroke-linejoin="bevel"/>
<path d="M512.5 396.7 L513.8 400.3 L517.5 400.4 L514.5 402.7 L515.6 406.3 L512.5 404.1 L509.4 406.3 L510.5 402.7 L507.5 400.4 L511.2 400.3 Z" fill="#ffff00" stroke="#0b7d0b" stroke-width="1.1" stroke-linejoin="bevel"/>
<path d="M534.5 399.7 L535.8 403.3 L539.5 403.4 L536.5 405.7 L537.6 409.3 L534.5 407.1 L531.4 409.3 L532.5 405.7 L529.5 403.4 L533.2 403.3 Z" fill="#ffff00" stroke="#0b7d0b" stroke-width="1.1" stroke-linejoin="bevel"/>
<path d="M568.5 395.0 L569.8 398.6 L573.5 398.7 L570.5 401.0 L571.6 404.6 L568.5 402.4 L565.4 404.6 L566.5 401.0 L563.5 398.7 L567.2 398.6 Z" fill="#ffff00" stroke="#0b7d0b" stroke-width="1.1" stroke-linejoin="bevel"/>
<path d="M557.5 409.9 L558.8 413.5 L562.5 413.6 L559.5 415.9 L560.6 419.5 L557.5 417.3 L554.4 419.5 L555.5 415.9 L552.5 413.6 L556.2 413.5 Z" fill="#ffff00" stroke="#0b7d0b" stroke-width="1.1" stroke-linejoin="bevel"/>
<path d="M540.5 420.9 L541.8 424.5 L545.5 424.6 L542.5 426.9 L543.6 430.5 L540.5 428.3 L537.4 430.5 L538.5 426.9 L535.5 424.6 L539.2 424.5 Z" fill="#ffff00" stroke="#0b7d0b" stroke-width="1.1" stroke-linejoin="bevel"/>
<path d="M508.5 430.9 L509.8 434.5 L513.5 434.6 L510.5 436.9 L511.6 440.5 L508.5 438.3 L505.4 440.5 L506.5 436.9 L503.5 434.6 L507.2 434.5 Z" fill="#ffff00" stroke="#0b7d0b" stroke-width="1.1" stroke-linejoin="bevel"/>
<path d="M573.5 441.9 L574.8 445.5 L578.5 445.6 L575.5 447.9 L576.6 451.5 L573.5 449.3 L570.4 451.5 L571.5 447.9 L568.5 445.6 L572.2 445.5 Z" fill="#ffff00" stroke="#0b7d0b" stroke-width="1.1" stroke-linejoin="bevel"/>
<path d="M537.5 449.9 L538.8 453.5 L542.5 453.6 L539.5 455.9 L540.6 459.5 L537.5 457.3 L534.4 459.5 L535.5 455.9 L532.5 453.6 L536.2 453.5 Z" fill="#ffff00" stroke="#0b7d0b" stroke-width="1.1" stroke-linejoin="bevel"/>
<path d="M510.5 452.9 L511.8 456.5 L515.5 456.6 L512.5 458.9 L513.6 462.5 L510.5 460.3 L507.4 462.5 L508.5 458.9 L505.5 456.6 L509.2 456.5 Z" fill="#ffff00" stroke="#0b7d0b" stroke-width="1.1" stroke-linejoin="bevel"/>
<path d="M546.5 467.9 L547.8 471.5 L551.5 471.6 L548.5 473.9 L549.6 477.5 L546.5 475.3 L543.4 477.5 L544.5 473.9 L541.5 471.6 L545.2 471.5 Z" fill="#ffff00" stroke="#0b7d0b" stroke-width="1.1" stroke-linejoin="bevel"/>
<path d="M546.5 514.9 L547.8 518.5 L551.5 518.6 L548.5 520.9 L549.6 524.5 L546.5 522.4 L543.4 524.5 L544.5 520.9 L541.5 518.6 L545.2 518.5 Z" fill="#ffff00" stroke="#0b7d0b" stroke-width="1.1" stroke-linejoin="bevel"/>
</g>
<line x1="242" y1="87.5" x2="752" y2="87.5" stroke="#666" stroke-width="1"/>
<line x1="242" y1="122.5" x2="752" y2="122.5" stroke="#666" stroke-width="1"/>
<g clip-path="url(#tc)"><rect x="449.4" y="76.5" width="2.0" height="2.0" fill="#f0c46d"/><rect x="472.2" y="77.9" width="2.0" height="2.0" fill="#80ffb4"/><rect x="490.7" y="74.8" width="2.0" height="2.0" fill="#ff8243"/><rect x="500.7" y="77.9" width="2.0" height="2.0" fill="#ff381c"/><rect x="507.0" y="84.2" width="2.0" height="2.0" fill="#f0c46d"/><rect x="501.8" y="87.4" width="2.0" height="2.0" fill="#f0c46d"/><rect x="502.4" y="93.0" width="2.0" height="2.0" fill="#80ffb4"/><rect x="507.0" y="94.9" width="2.0" height="2.0" fill="#80ffb4"/><rect x="486.5" y="116.5" width="2.0" height="2.0" fill="#19cee3"/><rect x="511.8" y="109.2" width="2.0" height="2.0" fill="#1996f3"/><rect x="509.9" y="114.2" width="2.0" height="2.0" fill="#19cee3"/><rect x="492.1" y="127.8" width="2.0" height="2.0" fill="#f0c46d"/><rect x="497.6" y="131.2" width="2.0" height="2.0" fill="#ff381c"/><rect x="509.1" y="130.7" width="2.0" height="2.0" fill="#ff381c"/><rect x="436.2" y="143.3" width="2.0" height="2.0" fill="#f0c46d"/><rect x="518.7" y="150.2" width="2.0" height="2.0" fill="#ff8243"/><rect x="529.8" y="151.9" width="2.0" height="2.0" fill="#ff381c"/><rect x="534.9" y="148.1" width="2.0" height="2.0" fill="#ff8243"/><rect x="506.4" y="52.4" width="2.0" height="2.0" fill="#80ffb4"/><rect x="515.6" y="54.9" width="2.0" height="2.0" fill="#80ffb4"/><rect x="519.2" y="54.9" width="2.0" height="2.0" fill="#a8f79c"/><rect x="528.4" y="53.4" width="2.0" height="2.0" fill="#ff8243"/><rect x="535.7" y="54.1" width="2.0" height="2.0" fill="#80ffb4"/><rect x="541.6" y="52.4" width="2.0" height="2.0" fill="#19cee3"/><rect x="518.9" y="59.9" width="2.0" height="2.0" fill="#ff381c"/><rect x="515.8" y="61.2" width="2.0" height="2.0" fill="#f0c46d"/><rect x="511.4" y="63.1" width="2.0" height="2.0" fill="#ff8243"/><rect x="510.6" y="67.7" width="2.0" height="2.0" fill="#80ffb4"/><rect x="530.0" y="58.2" width="2.0" height="2.0" fill="#ff8243"/><rect x="532.1" y="57.8" width="2.0" height="2.0" fill="#1996f3"/><rect x="540.9" y="57.2" width="2.0" height="2.0" fill="#19cee3"/><rect x="524.8" y="66.6" width="2.0" height="2.0" fill="#1996f3"/><rect x="531.1" y="66.4" width="2.0" height="2.0" fill="#ff8243"/><rect x="542.4" y="65.6" width="2.0" height="2.0" fill="#573ffd"/><rect x="515.8" y="75.0" width="2.0" height="2.0" fill="#f0c46d"/><rect x="516.8" y="80.9" width="2.0" height="2.0" fill="#f0c46d"/><rect x="529.4" y="76.5" width="2.0" height="2.0" fill="#f0c46d"/><rect x="531.5" y="76.1" width="2.0" height="2.0" fill="#f0c46d"/><rect x="539.9" y="76.1" width="2.0" height="2.0" fill="#ff381c"/><rect x="535.9" y="81.3" width="2.0" height="2.0" fill="#ff8243"/><rect x="539.1" y="80.5" width="2.0" height="2.0" fill="#ff8243"/><rect x="538.6" y="83.2" width="2.0" height="2.0" fill="#f0c46d"/><rect x="542.6" y="82.3" width="2.0" height="2.0" fill="#f0c46d"/><rect x="545.8" y="70.8" width="2.0" height="2.0" fill="#ff8243"/><rect x="548.9" y="73.3" width="2.0" height="2.0" fill="#ff8243"/><rect x="550.8" y="75.2" width="2.0" height="2.0" fill="#ff381c"/><rect x="551.4" y="77.9" width="2.0" height="2.0" fill="#ff381c"/><rect x="555.6" y="62.9" width="2.0" height="2.0" fill="#ff8243"/><rect x="557.9" y="71.4" width="2.0" height="2.0" fill="#f0c46d"/><rect x="560.6" y="63.9" width="2.0" height="2.0" fill="#80ffb4"/><rect x="561.9" y="63.3" width="2.0" height="2.0" fill="#ff381c"/><rect x="563.8" y="63.9" width="2.0" height="2.0" fill="#ff381c"/><rect x="567.6" y="58.2" width="2.0" height="2.0" fill="#1996f3"/><rect x="610.1" y="53.8" width="2.0" height="2.0" fill="#ff8243"/><rect x="609.2" y="87.4" width="2.0" height="2.0" fill="#ff381c"/><rect x="561.7" y="86.1" width="2.0" height="2.0" fill="#80ffb4"/><rect x="571.1" y="96.6" width="2.0" height="2.0" fill="#f0c46d"/><rect x="527.7" y="93.9" width="2.0" height="2.0" fill="#ff8243"/><rect x="532.8" y="100.2" width="2.0" height="2.0" fill="#f0c46d"/><rect x="538.6" y="98.1" width="2.0" height="2.0" fill="#80ffb4"/><rect x="539.1" y="99.9" width="2.0" height="2.0" fill="#80ffb4"/><rect x="540.9" y="102.2" width="2.0" height="2.0" fill="#ff8243"/><rect x="543.2" y="102.9" width="2.0" height="2.0" fill="#a8f79c"/><rect x="529.0" y="107.7" width="2.0" height="2.0" fill="#ff8243"/><rect x="557.7" y="117.5" width="2.0" height="2.0" fill="#ff381c"/><rect x="533.8" y="120.7" width="2.0" height="2.0" fill="#f0c46d"/><rect x="536.1" y="120.1" width="2.0" height="2.0" fill="#f0c46d"/><rect x="562.7" y="129.9" width="2.0" height="2.0" fill="#f0c46d"/><rect x="565.0" y="134.9" width="2.0" height="2.0" fill="#80ffb4"/><rect x="610.9" y="129.1" width="2.0" height="2.0" fill="#4df3ce"/></g>
<line x1="789.4" y1="157" x2="789.4" y2="653" stroke="#666" stroke-width="1"/>
<line x1="825.4" y1="157" x2="825.4" y2="653" stroke="#666" stroke-width="1"/>
<g clip-path="url(#rc)"><rect x="806.9" y="363.4" width="2.0" height="2.0" fill="#a8f79c"/><rect x="854.5" y="376.0" width="2.0" height="2.0" fill="#19cee3"/><rect x="859.9" y="380.6" width="2.0" height="2.0" fill="#4df3ce"/><rect x="832.6" y="381.6" width="2.0" height="2.0" fill="#80ffb4"/><rect x="847.6" y="391.7" width="2.0" height="2.0" fill="#b2f396"/><rect x="839.7" y="394.5" width="2.0" height="2.0" fill="#f0c46d"/><rect x="858.0" y="394.7" width="2.0" height="2.0" fill="#ff8243"/><rect x="856.7" y="396.7" width="2.0" height="2.0" fill="#b2f396"/><rect x="809.4" y="394.9" width="2.0" height="2.0" fill="#f0c46d"/><rect x="777.3" y="395.4" width="2.0" height="2.0" fill="#ff381c"/><rect x="772.9" y="398.4" width="2.0" height="2.0" fill="#80ffb4"/><rect x="788.2" y="405.1" width="2.0" height="2.0" fill="#f0c46d"/><rect x="822.9" y="407.5" width="2.0" height="2.0" fill="#ff381c"/><rect x="816.3" y="410.0" width="2.0" height="2.0" fill="#ff8243"/><rect x="791.1" y="412.7" width="2.0" height="2.0" fill="#ff381c"/><rect x="792.6" y="415.2" width="2.0" height="2.0" fill="#19cee3"/><rect x="851.5" y="413.4" width="2.0" height="2.0" fill="#ff381c"/><rect x="853.5" y="413.0" width="2.0" height="2.0" fill="#1996f3"/><rect x="859.9" y="417.9" width="2.0" height="2.0" fill="#ff8243"/><rect x="755.1" y="419.9" width="2.0" height="2.0" fill="#ff381c"/><rect x="807.4" y="417.4" width="2.0" height="2.0" fill="#ff8243"/><rect x="828.1" y="420.4" width="2.0" height="2.0" fill="#f0c46d"/><rect x="829.6" y="423.1" width="2.0" height="2.0" fill="#ff8243"/><rect x="832.8" y="423.6" width="2.0" height="2.0" fill="#ff381c"/><rect x="845.9" y="422.8" width="2.0" height="2.0" fill="#573ffd"/><rect x="843.7" y="424.3" width="2.0" height="2.0" fill="#80ffb4"/><rect x="817.0" y="426.3" width="2.0" height="2.0" fill="#80ffb4"/><rect x="812.3" y="429.7" width="2.0" height="2.0" fill="#80ffb4"/><rect x="822.9" y="427.8" width="2.0" height="2.0" fill="#f0c46d"/><rect x="834.3" y="427.8" width="2.0" height="2.0" fill="#f0c46d"/><rect x="836.0" y="430.2" width="2.0" height="2.0" fill="#f0c46d"/><rect x="830.1" y="430.2" width="2.0" height="2.0" fill="#ff8243"/><rect x="779.0" y="431.2" width="2.0" height="2.0" fill="#4df3ce"/><rect x="848.3" y="431.9" width="2.0" height="2.0" fill="#ff8243"/><rect x="854.0" y="431.7" width="2.0" height="2.0" fill="#1996f3"/><rect x="856.7" y="431.5" width="2.0" height="2.0" fill="#80ffb4"/><rect x="801.5" y="434.2" width="2.0" height="2.0" fill="#ff8243"/><rect x="788.9" y="436.1" width="2.0" height="2.0" fill="#f0c46d"/><rect x="837.7" y="435.6" width="2.0" height="2.0" fill="#ff8243"/><rect x="844.6" y="436.1" width="2.0" height="2.0" fill="#1996f3"/><rect x="850.8" y="437.1" width="2.0" height="2.0" fill="#f0c46d"/><rect x="854.0" y="438.4" width="2.0" height="2.0" fill="#80ffb4"/><rect x="858.0" y="435.6" width="2.0" height="2.0" fill="#ff8243"/><rect x="857.5" y="445.3" width="2.0" height="2.0" fill="#80ffb4"/><rect x="853.0" y="446.0" width="2.0" height="2.0" fill="#ff8243"/><rect x="776.8" y="448.0" width="2.0" height="2.0" fill="#ff381c"/><rect x="835.5" y="447.7" width="2.0" height="2.0" fill="#ff381c"/><rect x="834.3" y="449.0" width="2.0" height="2.0" fill="#f0c46d"/><rect x="764.0" y="451.7" width="2.0" height="2.0" fill="#f0c46d"/><rect x="814.8" y="453.4" width="2.0" height="2.0" fill="#80ffb4"/><rect x="824.2" y="455.4" width="2.0" height="2.0" fill="#80ffb4"/><rect x="827.1" y="453.4" width="2.0" height="2.0" fill="#f0c46d"/><rect x="836.0" y="454.9" width="2.0" height="2.0" fill="#ff8243"/><rect x="847.6" y="454.9" width="2.0" height="2.0" fill="#ff381c"/><rect x="848.8" y="456.4" width="2.0" height="2.0" fill="#ff8243"/><rect x="756.8" y="458.1" width="2.0" height="2.0" fill="#ff8243"/><rect x="840.2" y="459.3" width="2.0" height="2.0" fill="#ff8243"/><rect x="826.1" y="461.8" width="2.0" height="2.0" fill="#f0c46d"/><rect x="830.1" y="462.8" width="2.0" height="2.0" fill="#f0c46d"/><rect x="758.8" y="464.3" width="2.0" height="2.0" fill="#ff8243"/><rect x="844.6" y="464.5" width="2.0" height="2.0" fill="#ff8243"/><rect x="834.8" y="467.5" width="2.0" height="2.0" fill="#ff381c"/><rect x="780.5" y="470.7" width="2.0" height="2.0" fill="#f0c46d"/><rect x="813.3" y="470.9" width="2.0" height="2.0" fill="#f0c46d"/><rect x="832.8" y="471.9" width="2.0" height="2.0" fill="#ff381c"/><rect x="800.0" y="471.9" width="2.0" height="2.0" fill="#1996f3"/><rect x="794.6" y="474.6" width="2.0" height="2.0" fill="#19cee3"/><rect x="809.6" y="475.4" width="2.0" height="2.0" fill="#4df3ce"/><rect x="848.1" y="474.9" width="2.0" height="2.0" fill="#ff381c"/><rect x="834.8" y="486.0" width="2.0" height="2.0" fill="#f0c46d"/><rect x="778.0" y="500.3" width="2.0" height="2.0" fill="#f0c46d"/><rect x="859.7" y="531.6" width="2.0" height="2.0" fill="#80ffb4"/></g>
<rect x="241" y="157" width="1" height="496.5" fill="#000"/>
<rect x="241" y="652.2" width="512" height="1.5" fill="#000"/>
<rect x="241" y="53" width="2" height="105" fill="#000"/>
<rect x="241" y="53" width="622" height="2" fill="#000"/>
<rect x="241" y="156" width="622" height="3" fill="#000"/>
<rect x="751" y="53" width="3" height="601" fill="#000"/>
<rect x="861" y="53" width="2" height="601" fill="#000"/>
<rect x="751" y="652" width="112" height="2" fill="#000"/>
<text x="299.90" y="45.6" font-size="23" textLength="88.30" lengthAdjust="spacingAndGlyphs" fill="#000">SAETTA</text>
<text x="395.50" y="45.6" font-size="23" textLength="107.00" lengthAdjust="spacingAndGlyphs" fill="#000">Lightning</text>
<text x="510.20" y="45.6" font-size="23" textLength="98.30" lengthAdjust="spacingAndGlyphs" fill="#000">Mapping</text>
<text x="616.00" y="45.6" font-size="23" textLength="61.30" lengthAdjust="spacingAndGlyphs" fill="#000">Array</text>
<text x="685.00" y="45.6" font-size="23" textLength="8.40" lengthAdjust="spacingAndGlyphs" fill="#000">-</text>
<text x="701.80" y="45.6" font-size="23" textLength="100.40" lengthAdjust="spacingAndGlyphs" fill="#000">16/09/03</text>
<text x="225.1" y="52.1" font-size="10" text-anchor="middle" fill="#000" textLength="12.7" lengthAdjust="spacingAndGlyphs">15</text>
<text x="225.1" y="86.9" font-size="10" text-anchor="middle" fill="#000" textLength="12.7" lengthAdjust="spacingAndGlyphs">10</text>
<text x="223.2" y="121.8" font-size="10" text-anchor="middle" fill="#000">5</text>
<text x="223.2" y="156.8" font-size="10" text-anchor="middle" fill="#000">0</text>
<text x="195.6" y="105.2" font-size="12" text-anchor="middle" fill="#000" textLength="19.6" lengthAdjust="spacingAndGlyphs">Km</text>
<text x="233.8" y="210.9" font-size="10" text-anchor="end" fill="#000" textLength="34.7" lengthAdjust="spacingAndGlyphs">44.5°N</text>
<text x="233.8" y="262.1" font-size="10" text-anchor="end" fill="#000" textLength="25.2" lengthAdjust="spacingAndGlyphs">44°N</text>
<text x="233.8" y="312.1" font-size="10" text-anchor="end" fill="#000" textLength="34.7" lengthAdjust="spacingAndGlyphs">43.5°N</text>
<text x="233.8" y="362.2" font-size="10" text-anchor="end" fill="#000" textLength="25.2" lengthAdjust="spacingAndGlyphs">43°N</text>
<text x="233.8" y="412.1" font-size="10" text-anchor="end" fill="#000" textLength="34.7" lengthAdjust="spacingAndGlyphs">42.5°N</text>
<text x="233.8" y="461.2" font-size="10" text-anchor="end" fill="#000" textLength="25.2" lengthAdjust="spacingAndGlyphs">42°N</text>
<text x="233.8" y="510.1" font-size="10" text-anchor="end" fill="#000" textLength="34.7" lengthAdjust="spacingAndGlyphs">41.5°N</text>
<text x="233.8" y="559.2" font-size="10" text-anchor="end" fill="#000" textLength="25.2" lengthAdjust="spacingAndGlyphs">41°N</text>
<text x="233.8" y="607.1" font-size="10" text-anchor="end" fill="#000" textLength="34.7" lengthAdjust="spacingAndGlyphs">40.5°N</text>
<text x="233.8" y="655.6" font-size="10" text-anchor="end" fill="#000" textLength="25.2" lengthAdjust="spacingAndGlyphs">40°N</text>
<text x="241.5" y="667.0" font-size="10" text-anchor="middle" fill="#000" textLength="17.7" lengthAdjust="spacingAndGlyphs">5°E</text>
<text x="278.0" y="667.0" font-size="10" text-anchor="middle" fill="#000" textLength="27.2" lengthAdjust="spacingAndGlyphs">5.5°E</text>
<text x="314.5" y="667.0" font-size="10" text-anchor="middle" fill="#000" textLength="17.7" lengthAdjust="spacingAndGlyphs">6°E</text>
<text x="351.0" y="667.0" font-size="10" text-anchor="middle" fill="#000" textLength="27.2" lengthAdjust="spacingAndGlyphs">6.5°E</text>
<text x="387.5" y="667.0" font-size="10" text-anchor="middle" fill="#000" textLength="17.7" lengthAdjust="spacingAndGlyphs">7°E</text>
<text x="424.0" y="667.0" font-size="10" text-anchor="middle" fill="#000" textLength="27.2" lengthAdjust="spacingAndGlyphs">7.5°E</text>
<text x="460.5" y="667.0" font-size="10" text-anchor="middle" fill="#000" textLength="17.7" lengthAdjust="spacingAndGlyphs">8°E</text>
<text x="497.0" y="667.0" font-size="10" text-anchor="middle" fill="#000" textLength="27.2" lengthAdjust="spacingAndGlyphs">8.5°E</text>
<text x="533.5" y="667.0" font-size="10" text-anchor="middle" fill="#000" textLength="17.7" lengthAdjust="spacingAndGlyphs">9°E</text>
<text x="570.0" y="667.0" font-size="10" text-anchor="middle" fill="#000" textLength="27.2" lengthAdjust="spacingAndGlyphs">9.5°E</text>
<text x="606.5" y="667.0" font-size="10" text-anchor="middle" fill="#000" textLength="24.0" lengthAdjust="spacingAndGlyphs">10°E</text>
<text x="643.0" y="667.0" font-size="10" text-anchor="middle" fill="#000" textLength="33.6" lengthAdjust="spacingAndGlyphs">10.5°E</text>
<text x="679.5" y="667.0" font-size="10" text-anchor="middle" fill="#000" textLength="24.0" lengthAdjust="spacingAndGlyphs">11°E</text>
<text x="716.0" y="667.0" font-size="10" text-anchor="middle" fill="#000" textLength="33.6" lengthAdjust="spacingAndGlyphs">11.5°E</text>
<text x="756.3" y="667.0" font-size="10" text-anchor="middle" fill="#000">0</text>
<text x="792.0" y="667.0" font-size="10" text-anchor="middle" fill="#000">5</text>
<text x="830.9" y="667.0" font-size="10" text-anchor="middle" fill="#000" textLength="12.7" lengthAdjust="spacingAndGlyphs">10</text>
<text x="868.0" y="667.0" font-size="10" text-anchor="middle" fill="#000" textLength="12.7" lengthAdjust="spacingAndGlyphs">15</text>
<text x="816.3" y="676.2" font-size="12" text-anchor="middle" fill="#000" textLength="19.6" lengthAdjust="spacingAndGlyphs">Km</text>
<text x="772.9" y="84.1" font-size="10" text-anchor="middle" fill="#000">6</text>
<text x="784.4" y="83.6" font-size="10" text-anchor="middle" fill="#000" textLength="3.4" lengthAdjust="spacingAndGlyphs">:</text>
<text x="815.9" y="84.1" font-size="10" text-anchor="middle" fill="#000" textLength="31.8" lengthAdjust="spacingAndGlyphs">20146</text>
<text x="772.9" y="94.0" font-size="10" text-anchor="middle" fill="#f00">7</text>
<text x="784.4" y="93.5" font-size="10" text-anchor="middle" fill="#f00" textLength="3.4" lengthAdjust="spacingAndGlyphs">:</text>
<text x="815.8" y="94.0" font-size="10" text-anchor="middle" fill="#f00" textLength="12.7" lengthAdjust="spacingAndGlyphs">73</text>
<text x="772.9" y="105.0" font-size="10" text-anchor="middle" fill="#000">8</text>
<text x="784.4" y="104.5" font-size="10" text-anchor="middle" fill="#000" textLength="3.4" lengthAdjust="spacingAndGlyphs">:</text>
<text x="815.6" y="105.0" font-size="10" text-anchor="middle" fill="#000">0</text>
<text x="772.9" y="114.9" font-size="10" text-anchor="middle" fill="#000">9</text>
<text x="784.4" y="114.4" font-size="10" text-anchor="middle" fill="#000" textLength="3.4" lengthAdjust="spacingAndGlyphs">:</text>
<text x="815.6" y="114.9" font-size="10" text-anchor="middle" fill="#000">0</text>
<text x="772.8" y="125.8" font-size="10" text-anchor="middle" fill="#000" textLength="12.7" lengthAdjust="spacingAndGlyphs">10</text>
<text x="787.6" y="125.3" font-size="10" text-anchor="middle" fill="#000" textLength="3.4" lengthAdjust="spacingAndGlyphs">:</text>
<text x="818.6" y="125.8" font-size="10" text-anchor="middle" fill="#000">0</text>
<text x="772.8" y="135.9" font-size="10" text-anchor="middle" fill="#000" textLength="12.7" lengthAdjust="spacingAndGlyphs">11</text>
<text x="787.6" y="135.4" font-size="10" text-anchor="middle" fill="#000" textLength="3.4" lengthAdjust="spacingAndGlyphs">:</text>
<text x="818.6" y="135.9" font-size="10" text-anchor="middle" fill="#000">0</text>
<text x="772.8" y="146.0" font-size="10" text-anchor="middle" fill="#000" textLength="12.7" lengthAdjust="spacingAndGlyphs">12</text>
<text x="787.6" y="145.5" font-size="10" text-anchor="middle" fill="#000" textLength="3.4" lengthAdjust="spacingAndGlyphs">:</text>
<text x="818.6" y="146.0" font-size="10" text-anchor="middle" fill="#000">0</text>
<defs><linearGradient id="cb" x1="0" x2="1" y1="0" y2="0"><stop offset="0.0000" stop-color="#8000ff"/><stop offset="0.0250" stop-color="#7314ff"/><stop offset="0.0500" stop-color="#6628fe"/><stop offset="0.0750" stop-color="#593cfd"/><stop offset="0.1000" stop-color="#4c4ffc"/><stop offset="0.1250" stop-color="#4062fa"/><stop offset="0.1500" stop-color="#3374f8"/><stop offset="0.1750" stop-color="#2685f5"/><stop offset="0.2000" stop-color="#1996f3"/><stop offset="0.2250" stop-color="#0da6ef"/><stop offset="0.2500" stop-color="#00b4ec"/><stop offset="0.2750" stop-color="#0dc2e8"/><stop offset="0.3000" stop-color="#19cee3"/><stop offset="0.3250" stop-color="#26d9de"/><stop offset="0.3500" stop-color="#33e3d9"/><stop offset="0.3750" stop-color="#40ecd4"/><stop offset="0.4000" stop-color="#4df3ce"/><stop offset="0.4250" stop-color="#59f8c8"/><stop offset="0.4500" stop-color="#66fcc2"/><stop offset="0.4750" stop-color="#73febb"/><stop offset="0.5000" stop-color="#80ffb4"/><stop offset="0.5250" stop-color="#8cfead"/><stop offset="0.5500" stop-color="#99fca6"/><stop offset="0.5750" stop-color="#a6f89e"/><stop offset="0.6000" stop-color="#b2f396"/><stop offset="0.6250" stop-color="#bfec8e"/><stop offset="0.6500" stop-color="#cce385"/><stop offset="0.6750" stop-color="#d9d97d"/><stop offset="0.7000" stop-color="#e5ce74"/><stop offset="0.7250" stop-color="#f2c26b"/><stop offset="0.7500" stop-color="#ffb462"/><stop offset="0.7750" stop-color="#ffa658"/><stop offset="0.8000" stop-color="#ff964f"/><stop offset="0.8250" stop-color="#ff8545"/><stop offset="0.8500" stop-color="#ff743c"/><stop offset="0.8750" stop-color="#ff6232"/><stop offset="0.9000" stop-color="#ff4f28"/><stop offset="0.9250" stop-color="#ff3c1e"/><stop offset="0.9500" stop-color="#ff2814"/><stop offset="0.9750" stop-color="#ff140a"/><stop offset="1.0000" stop-color="#ff0000"/></linearGradient></defs>
<rect x="158.3" y="690.6" width="787" height="37.5" fill="url(#cb)" stroke="#111" stroke-width="0.8"/>
<line x1="158.3" y1="728" x2="158.3" y2="732" stroke="#000" stroke-width="0.9"/>
<text x="158.3" y="743.2" font-size="10" text-anchor="middle" fill="#000">0</text>
<line x1="315.7" y1="728" x2="315.7" y2="732" stroke="#000" stroke-width="0.9"/>
<text x="315.7" y="743.2" font-size="10" text-anchor="middle" fill="#000">2</text>
<line x1="473.1" y1="728" x2="473.1" y2="732" stroke="#000" stroke-width="0.9"/>
<text x="473.1" y="743.2" font-size="10" text-anchor="middle" fill="#000">4</text>
<line x1="630.5" y1="728" x2="630.5" y2="732" stroke="#000" stroke-width="0.9"/>
<text x="630.5" y="743.2" font-size="10" text-anchor="middle" fill="#000">6</text>
<line x1="787.9" y1="728" x2="787.9" y2="732" stroke="#000" stroke-width="0.9"/>
<text x="787.9" y="743.2" font-size="10" text-anchor="middle" fill="#000">8</text>
<line x1="945.3" y1="728" x2="945.3" y2="732" stroke="#000" stroke-width="0.9"/>
<text x="945.3" y="743.2" font-size="10" text-anchor="middle" fill="#000" textLength="12.7" lengthAdjust="spacingAndGlyphs">10</text>
<text x="433.30" y="718.6" font-size="19.4" textLength="43.50" lengthAdjust="spacingAndGlyphs" fill="#000">from</text>
<text x="483.20" y="718.6" font-size="19.4" textLength="83.50" lengthAdjust="spacingAndGlyphs" fill="#000">05:00:00</text>
<text x="573.30" y="718.6" font-size="19.4" textLength="18.80" lengthAdjust="spacingAndGlyphs" fill="#000">to</text>
<text x="597.90" y="718.6" font-size="19.4" textLength="83.50" lengthAdjust="spacingAndGlyphs" fill="#000">05:09:59</text>
</svg>
</body></html>
